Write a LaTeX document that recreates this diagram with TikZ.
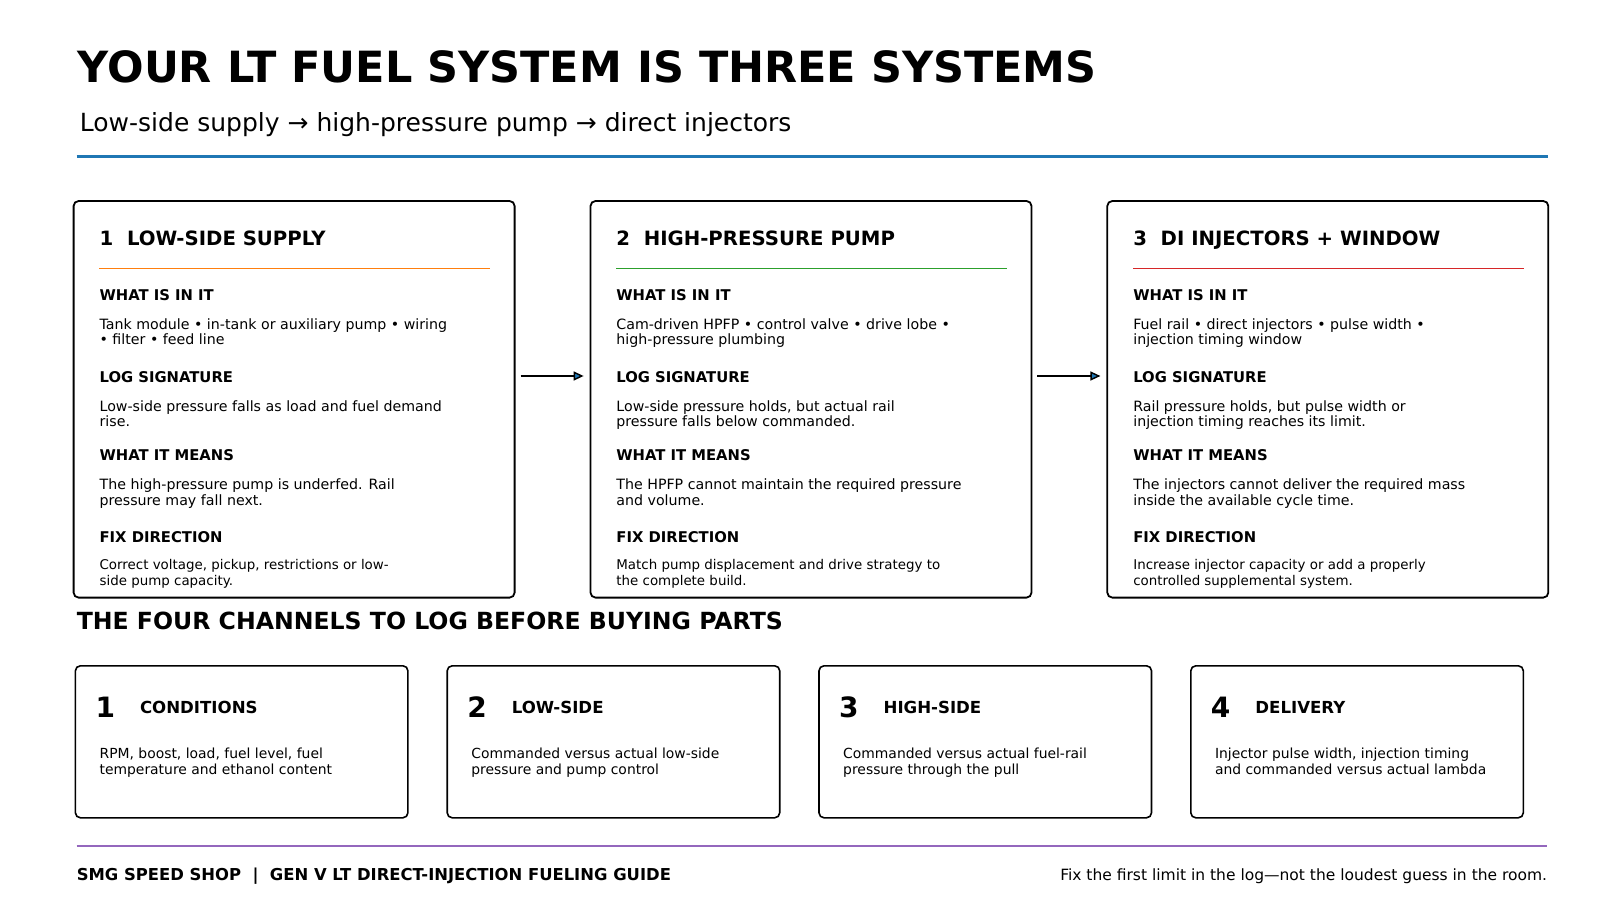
\documentclass[tikz,border=0pt]{standalone}
\usepackage{fontspec}
\setmainfont{DejaVu Sans}
\usepackage{tikz}
\usetikzlibrary{arrows.meta}
\definecolor{tabblue}{HTML}{1F77B4}
\definecolor{taborange}{HTML}{FF7F0E}
\definecolor{tabgreen}{HTML}{2CA02C}
\definecolor{tabred}{HTML}{D62728}
\definecolor{tabpurple}{HTML}{9467BD}
\newcommand{\fsz}[2]{\fontsize{#1}{#2}\selectfont}
\tikzset{
    sysbox/.style={draw=black, line width=1.8pt, rounded corners=5pt, inner sep=0pt,
        minimum width=441pt, minimum height=396.6pt},
    chanbox/.style={draw=black, line width=1.6pt, rounded corners=5pt, inner sep=0pt,
        minimum width=332.5pt, minimum height=152pt},
    txt/.style={anchor=base west, inner sep=0pt, align=left},
    boxhead/.style={txt, font=\bfseries\fsz{19.7}{24}},
    sechead/.style={txt, font=\bfseries\fsz{14.8}{18}},
    % two-line texts: the base anchor sits on the second line
    body/.style={txt, font=\fsz{14.2}{15.5}},
    smallbody/.style={txt, font=\fsz{13.4}{15.5}},
    flow/.style={-{Triangle[length=10pt,width=9pt,fill=tabblue]}, line width=1.4pt,
        shorten <=5pt, shorten >=6pt}
}

\begin{document}
\begin{tikzpicture}[x=1pt,y=-1pt]
    \useasboundingbox (0,0) rectangle (1624,923);
    % title block
    \node[txt, font=\bfseries\fsz{43}{52}] (title) at (77.7,82.9) {YOUR LT FUEL SYSTEM IS THREE SYSTEMS};
    \node[txt, font=\fsz{25}{30}] (subtitle) at (79.7,131.5) {Low-side supply → high-pressure pump → direct injectors};
    \draw [tabblue, line width=2.5pt] (76.6,156.4) -- (1548,156.4);

    % the three systems
    \node[sysbox] (sys1) at (294.1,399.3) {};
    \node[sysbox] (sys2) at (811,399.3) {};
    \node[sysbox] (sys3) at (1327.8,399.3) {};
    \draw [flow] (sys1.east |- 0,376) -- (sys2.west |- 0,376);
    \draw [flow] (sys2.east |- 0,376) -- (sys3.west |- 0,376);

    % system 1
    \node[boxhead] (h1) at (99.4,245.5) {1\ \ LOW-SIDE SUPPLY};
    \draw [taborange, line width=1pt] (99.4,268.5) -- (490,268.5);
    \node[sechead] (in1) at (99.4,300.4) {WHAT IS IN IT};
    \node[body] (inb1) at (99.4,344.9) {Tank module • in-tank or auxiliary pump • wiring\\• filter • feed line};
    \node[sechead] (log1) at (99.4,382.2) {LOG SIGNATURE};
    \node[body] (logb1) at (99.4,426.7) {Low-side pressure falls as load and fuel demand\\rise.};
    \node[sechead] (mean1) at (99.4,460.9) {WHAT IT MEANS};
    \node[body] (meanb1) at (99.4,505.4) {The high-pressure pump is underfed. Rail\\pressure may fall next.};
    \node[sechead] (fix1) at (99.4,542.7) {FIX DIRECTION};
    \node[smallbody] (fixb1) at (99.4,585.1) {Correct voltage, pickup, restrictions or low-\\side pump capacity.};

    % system 2
    \node[boxhead] (h2) at (616.2,245.5) {2\ \ HIGH-PRESSURE PUMP};
    \draw [tabgreen, line width=1pt] (616.2,268.5) -- (1007,268.5);
    \node[sechead] (in2) at (616.2,300.4) {WHAT IS IN IT};
    \node[body] (inb2) at (616.2,344.9) {Cam-driven HPFP • control valve • drive lobe •\\high-pressure plumbing};
    \node[sechead] (log2) at (616.2,382.2) {LOG SIGNATURE};
    \node[body] (logb2) at (616.2,426.7) {Low-side pressure holds, but actual rail\\pressure falls below commanded.};
    \node[sechead] (mean2) at (616.2,460.9) {WHAT IT MEANS};
    \node[body] (meanb2) at (616.2,505.4) {The HPFP cannot maintain the required pressure\\and volume.};
    \node[sechead] (fix2) at (616.2,542.7) {FIX DIRECTION};
    \node[smallbody] (fixb2) at (616.2,585.1) {Match pump displacement and drive strategy to\\the complete build.};

    % system 3
    \node[boxhead] (h3) at (1133.1,245.5) {3\ \ DI INJECTORS + WINDOW};
    \draw [tabred, line width=1pt] (1133.1,268.5) -- (1524,268.5);
    \node[sechead] (in3) at (1133.1,300.4) {WHAT IS IN IT};
    \node[body] (inb3) at (1133.1,344.9) {Fuel rail • direct injectors • pulse width •\\injection timing window};
    \node[sechead] (log3) at (1133.1,382.2) {LOG SIGNATURE};
    \node[body] (logb3) at (1133.1,426.7) {Rail pressure holds, but pulse width or\\injection timing reaches its limit.};
    \node[sechead] (mean3) at (1133.1,460.9) {WHAT IT MEANS};
    \node[body] (meanb3) at (1133.1,505.4) {The injectors cannot deliver the required mass\\inside the available cycle time.};
    \node[sechead] (fix3) at (1133.1,542.7) {FIX DIRECTION};
    \node[smallbody] (fixb3) at (1133.1,585.1) {Increase injector capacity or add a properly\\controlled supplemental system.};

    % channels to log
    \node[txt, font=\bfseries\fsz{23.6}{28}] (chantitle) at (76.6,629.7) {THE FOUR CHANNELS TO LOG BEFORE BUYING PARTS};
    \foreach \i/\lft/\cname/\ctext in {
        1/74.6/CONDITIONS/{RPM, boost, load, fuel level, fuel\\temperature and ethanol content},
        2/446.4/LOW-SIDE/{Commanded versus actual low-side\\pressure and pump control},
        3/818.2/HIGH-SIDE/{Commanded versus actual fuel-rail\\pressure through the pull},
        4/1190/DELIVERY/{Injector pulse width, injection timing\\and commanded versus actual lambda}} {
        \node[chanbox, anchor=north west] (chan\i) at (\lft,665) {};
        \node[txt, font=\bfseries\fsz{28}{32}] (num\i) at (\lft+20.7,717.7) {\i};
        \node[txt, font=\bfseries\fsz{16.6}{20}] (cname\i) at (\lft+65.2,713.6) {\cname};
        \node[txt, font=\fsz{13.9}{16.6}] (ctext\i) at (\lft+24.8,774.7) {\ctext};
    }

    % footer
    \draw [tabpurple, line width=1.8pt] (76.6,846.2) -- (1547.3,846.2);
    \node[txt, font=\bfseries\fsz{16.4}{19}] (foot) at (76.6,880) {SMG SPEED SHOP\ \ |\ \ GEN V LT DIRECT-INJECTION FUELING GUIDE};
    \node[anchor=base east, inner sep=0pt, font=\fsz{15.5}{18}] (motto) at (1547.3,880) {Fix the first limit in the log—not the loudest guess in the room.};
\end{tikzpicture}
\end{document}
